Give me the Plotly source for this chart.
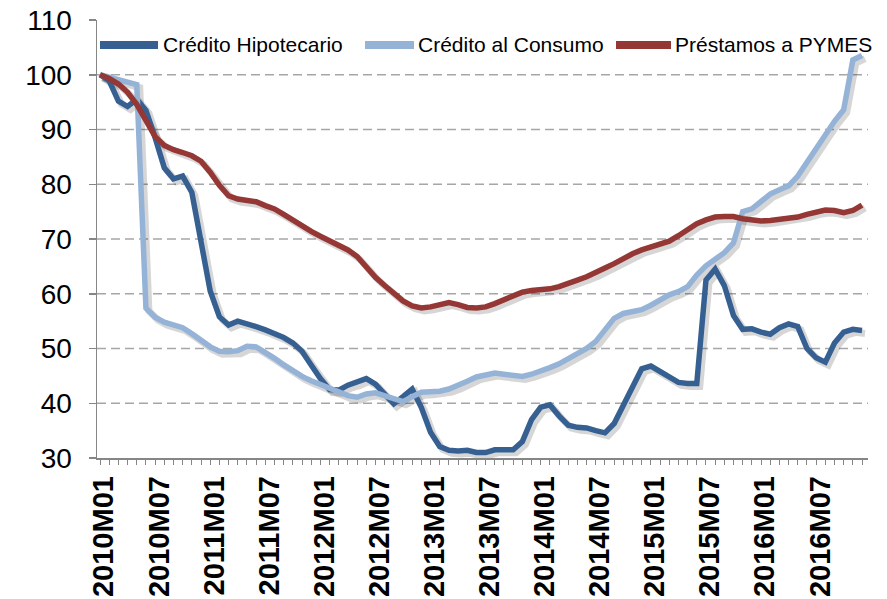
import plotly.graph_objects as go

# ---------------- data ----------------
years = [2010, 2011, 2012, 2013, 2014, 2015, 2016]
months = [f"{y}M{m:02d}" for y in years for m in range(1, 13)]

hipotecario = [
    100, 98.9, 95.2, 94.2, 95.5, 93.5, 88.5, 83, 81, 81.5, 78.5, 69.5,
    60.5, 55.8, 54.3, 55, 54.6, 54, 53.4, 52.8, 52, 51, 49.5, 47,
    44.5, 42.5, 42.4, 43.3, 43.8, 44.5, 43.5, 41.7, 39.9, 41.2, 42.6, 39.2,
    34.7, 32.1, 31.4, 31.3, 31.4, 31, 31, 31.5, 31.4, 31.5, 33, 37,
    39.3, 39.7, 37.7, 36, 35.6, 35.5, 35, 34.6, 36.3, 39.5, 43.2, 46.3,
    46.8, 45.8, 44.7, 43.8, 43.6, 43.6, 62.5, 64.5, 61.5, 56, 53.5, 53.6,
    53, 52.6, 53.8, 54.5, 54, 50, 48.3, 47.5, 51, 53, 53.5, 53.3,
]
consumo = [
    100, 99.6, 99.2, 98.8, 98.2, 57.4, 55.7, 54.8, 54.4, 53.8, 52.7, 51.5,
    50.3, 49.5, 49.4, 49.6, 50.4, 50.3, 49.3, 48.2, 47, 45.9, 44.9, 44.1,
    43.4, 42.7, 42.1, 41.4, 41.1, 41.7, 41.9, 41.4, 40.7, 40.3, 41.2, 42,
    42.1, 42.2, 42.6, 43.2, 44, 44.8, 45.2, 45.5, 45.3, 45, 44.9, 45.3,
    45.8, 46.5, 47.2, 48.1, 49, 50, 51.3, 53.4, 55.5, 56.4, 56.7, 57.1,
    57.9, 58.9, 59.8, 60.4, 61.3, 63.4, 65.1, 66.3, 67.5, 69.3, 75, 75.5,
    77, 78.2, 79, 79.7, 81.5, 84, 86.7, 89.2, 91.5, 93.6, 102.7, 103.5,
]
pymes = [
    100, 99.3, 98.3, 96.8, 94.6, 91.8, 88.7, 87.1, 86.3, 85.8, 85.2, 84.2,
    82.2, 79.8, 77.9, 77.3, 77.1, 76.8, 76.1, 75.5, 74.5, 73.4, 72.4, 71.4,
    70.5, 69.7, 69, 68, 66.8, 64.7, 63, 61.5, 60.1, 58.7, 57.8, 57.4,
    57.6, 58, 58.4, 58, 57.5, 57.4, 57.6, 58.2, 58.9, 59.6, 60.3, 60.6,
    60.7, 60.9, 61.3, 61.8, 62.5, 63.1, 63.8, 64.7, 65.5, 66.5, 67.3, 68,
    68.5, 68.9, 69.6, 70.6, 71.7, 72.8, 73.5, 74, 74.1, 74.1, 73.7, 73.4,
    73.3, 73.4, 73.6, 73.8, 74, 74.5, 75, 75.3, 75.2, 74.8, 75.2, 76.2,
]
series_names = ["Crédito Hipotecario", "Crédito al Consumo", "Préstamos a PYMES"]
series_values = [hipotecario, consumo, pymes]
y_ticks = [30, 40, 50, 60, 70, 80, 90, 100, 110]
grid_values = [40, 50, 60, 70, 80, 90, 100]

# ---------------- style ----------------
colors = ["#376092", "#95B3D7", "#953735"]
W, H = 887, 599
ML, MR, MT, MB = 97, 19, 20, 141
plot_w = W - ML - MR
plot_h = H - MT - MB
x_range = [-0.33, len(months) - 1 + 0.65]
y_range = [30, 110]
px_per_x = plot_w / (x_range[1] - x_range[0])
px_per_y = plot_h / (y_range[1] - y_range[0])
sh_dx = 3.0 / px_per_x
sh_dy = 3.0 / px_per_y

x_idx = list(range(len(months)))
tick_text = [m if i % 6 == 0 else "" for i, m in enumerate(months)]

fig = go.Figure()

# shadows (on hidden base axes shifted by a few pixels)
for vals in series_values:
    fig.add_trace(go.Scatter(
        x=x_idx, y=vals, mode="lines", xaxis="x", yaxis="y",
        line=dict(color="rgba(0,0,0,0.16)", width=7),
        hoverinfo="skip", showlegend=False,
    ))

# main lines
for name, vals, c in zip(series_names, series_values, colors):
    fig.add_trace(go.Scatter(
        x=x_idx, y=vals, mode="lines", name=name, xaxis="x2", yaxis="y2",
        line=dict(color=c, width=5.5), showlegend=False,
    ))

axis_gray = "#868686"
fig.update_layout(
    width=W, height=H,
    margin=dict(l=ML, r=MR, t=MT, b=MB, autoexpand=False),
    paper_bgcolor="white", plot_bgcolor="rgba(0,0,0,0)",
    font=dict(family="Liberation Sans, Arial, sans-serif", color="#000"),
    xaxis=dict(range=[x_range[0] - sh_dx, x_range[1] - sh_dx], visible=False,
               fixedrange=True, automargin=False),
    yaxis=dict(range=[y_range[0] + sh_dy, y_range[1] + sh_dy], visible=False,
               fixedrange=True, automargin=False),
    xaxis2=dict(
        overlaying="x", side="bottom", range=x_range, automargin=False,
        tickmode="array", tickvals=x_idx, ticktext=tick_text,
        tickangle=-90, ticks="outside", ticklen=5, tickwidth=1, tickcolor=axis_gray,
        showline=True, linecolor=axis_gray, linewidth=1.5,
        showgrid=False, zeroline=False,
        tickfont=dict(size=29, weight="bold", color="#000",
                      family="Liberation Sans, Arial, sans-serif"),
        ticklabelstandoff=0, ticklabelshift=4, ticklabeloverflow="allow",
    ),
    yaxis2=dict(
        overlaying="y", side="left", range=y_range, automargin=False,
        tickmode="array", tickvals=y_ticks,
        ticks="outside", ticklen=7, tickwidth=1.5, tickcolor=axis_gray,
        showline=True, linecolor=axis_gray, linewidth=1.5,
        showgrid=False, zeroline=False,
        tickfont=dict(size=28, color="#000",
                      family="Liberation Sans, Arial, sans-serif"),
        ticklabelstandoff=11, ticklabeloverflow="allow",
    ),
)

# dashed gridlines
for g in grid_values:
    fig.add_shape(type="line", xref="paper", yref="y2", x0=0, x1=1, y0=g, y1=g,
                  line=dict(color="#A6A6A6", width=1.5, dash="9px,5px"),
                  layer="below")

# custom legend (positions given in pixels)
legend_items = [  # (line start px, line end px, text start px)
    (100, 158, 161),
    (365, 414, 416),
    (616, 671, 673),
]
ly = (H - MB - 45) / plot_h
for (a, b, t), name, c in zip(legend_items, series_names, colors):
    fig.add_shape(type="line", xref="paper", yref="paper",
                  x0=(a - ML) / plot_w, x1=(b - ML) / plot_w, y0=ly, y1=ly,
                  line=dict(color=c, width=8))
    fig.add_annotation(x=(t - ML) / plot_w, y=ly, xref="paper", yref="paper",
                       text=name, showarrow=False, xanchor="left", yanchor="middle",
                       font=dict(size=21, color="#000",
                                 family="Liberation Sans, Arial, sans-serif"))

fig.write_html(
    "out.html",
    config={"displayModeBar": False, "staticPlot": True},
    post_script="document.body.style.margin='0px';document.body.style.overflow='hidden';",
)
